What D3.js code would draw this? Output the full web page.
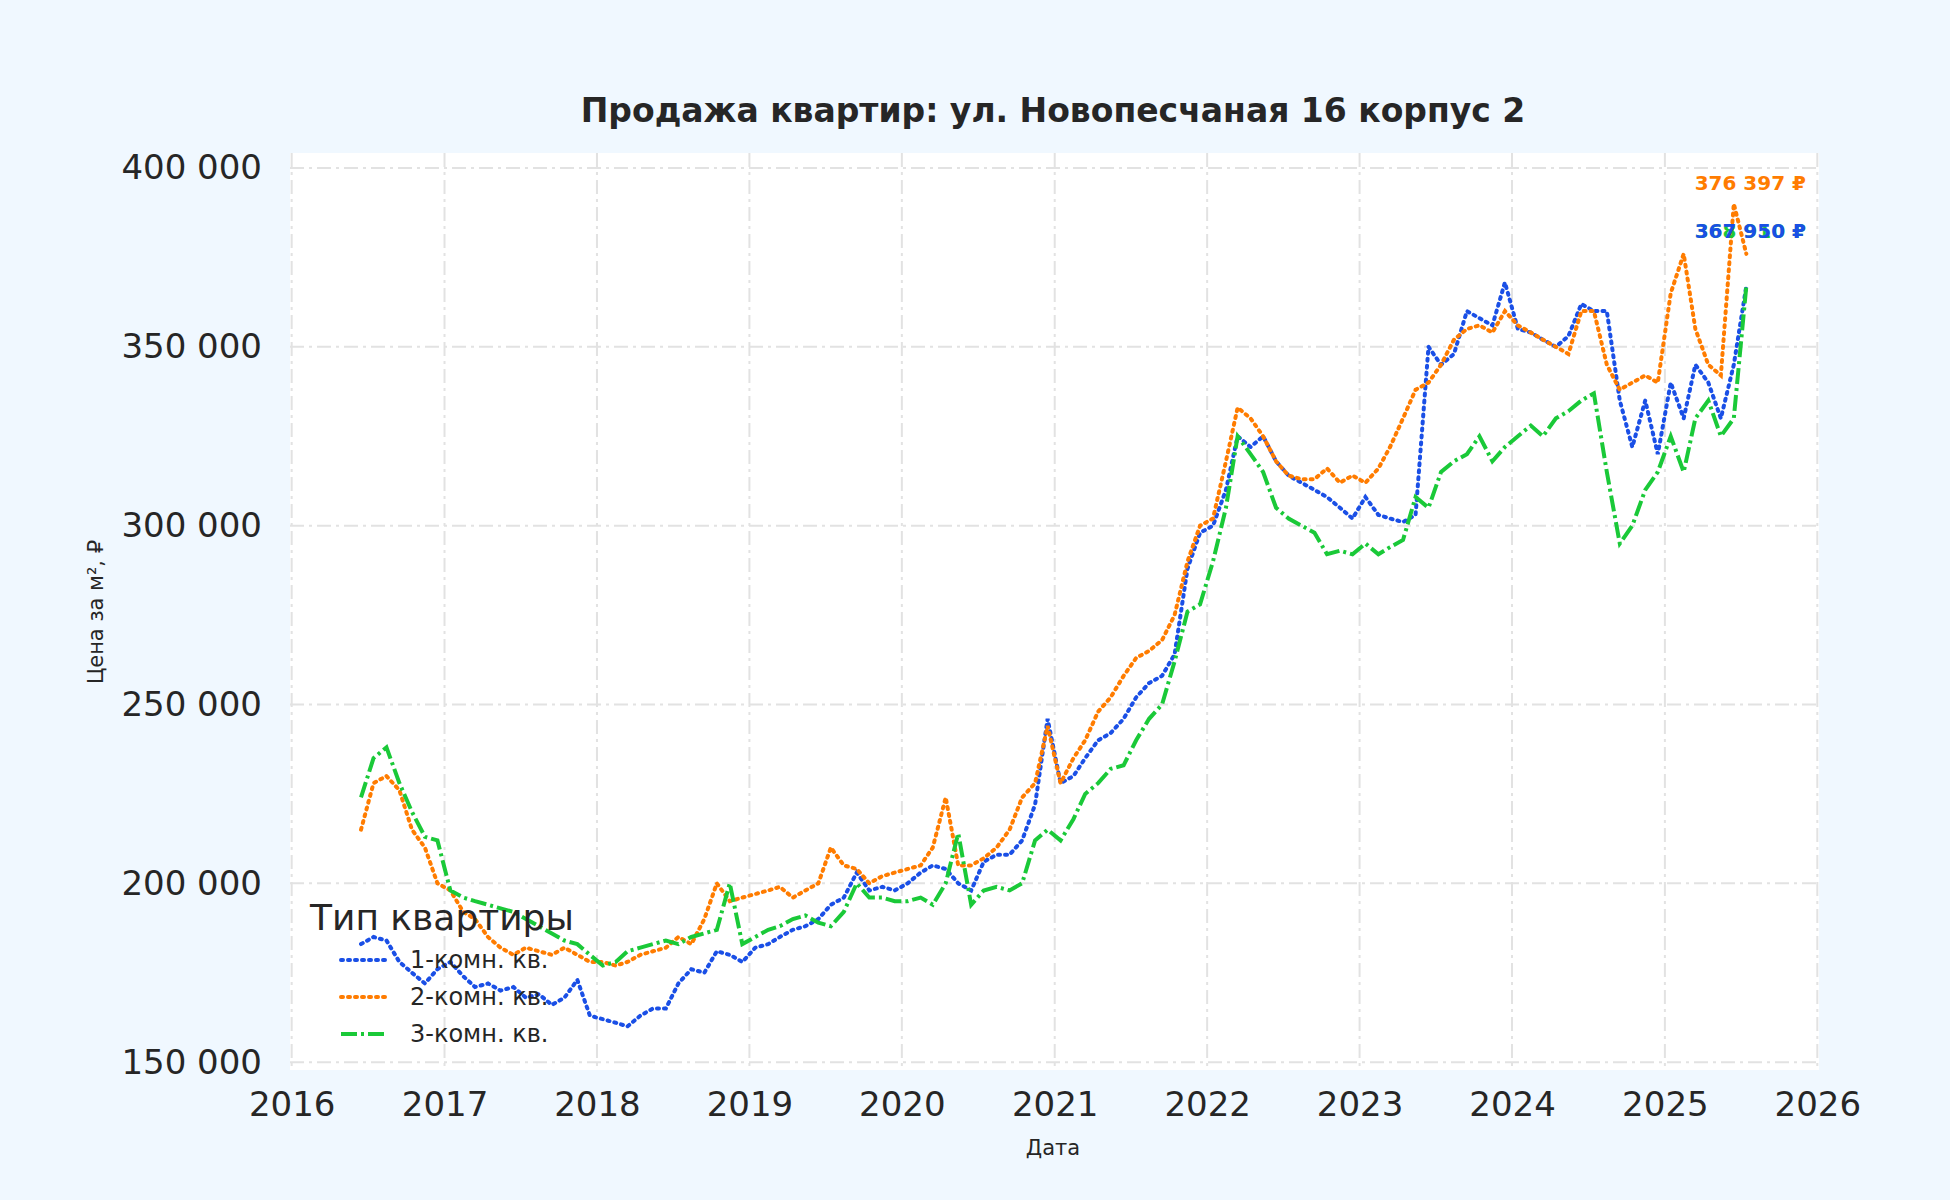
<!DOCTYPE html>
<html><head><meta charset="utf-8">
<script src="https://cdn.jsdelivr.net/npm/d3@7"></script>
<style>body{margin:0;background:#f0f8ff}text{font-family:"DejaVu Sans",sans-serif}</style>
</head><body>
<svg id="canvas" width="1950" height="1200"></svg>
<script>
// monthly values, thousands of rubles, Jun 2016 .. Jul 2025
let startMonth = new Date(2016, 5, 15)
let room1 = [183,185,184,178,175,172,176,
  178,174,171,172,170,171,168,169,166,168,173,163,
  162,161,160,163,165,165,172,176,175,181,180,178,
  182,183,185,187,188,190,194,196,203,198,199,198,
  200,203,205,204,200,198,206,208,208,212,222,246,
  228,230,235,240,242,246,252,256,258,264,288,298,
  300,310,325,322,325,318,314,312,310,308,305,302,
  308,303,302,301,303,350,345,348,360,358,356,368,
  355,354,352,350,353,362,360,360,335,322,335,320,
  340,330,345,340,330,345,367]
let room2 = [215,228,230,226,215,210,200,
  198,192,190,185,182,180,182,181,180,182,180,178,
  178,177,178,180,181,182,185,183,190,200,195,196,
  197,198,199,196,198,200,210,205,204,200,202,203,
  204,205,210,224,205,205,207,210,215,224,228,244,
  228,235,240,248,252,258,263,265,268,275,290,300,
  302,318,333,330,325,318,314,313,313,316,312,314,
  312,316,322,330,338,340,345,352,355,356,354,360,
  356,354,352,350,348,360,360,345,338,340,342,340,
  365,376,355,345,342,390,376]
let room3 = [224,235,238,228,220,213,212,
  198,196,195,194,193,192,190,188,186,184,183,180,
  177,178,181,182,183,184,183,185,186,187,200,183,
  185,187,188,190,191,189,188,192,200,196,196,195,
  195,196,194,200,214,194,198,199,198,200,212,215,
  212,218,225,228,232,233,240,246,250,262,276,278,
  290,305,325,320,315,305,302,300,298,292,293,292,
  295,292,294,296,308,305,315,318,320,325,318,322,
  325,328,325,330,332,335,337,315,295,300,310,315,
  325,315,330,335,325,330,367]
let seriesNames = ['1-комн. кв.','2-комн. кв.','3-комн. кв.']
let seriesColors = ['#1a4fe6','#ff7c00','#1ac938']
let seriesDash = ['2,5','2,5','16,4,3,4']
let lastLabels = ['367 950 ₽','376 397 ₽','368 910 ₽']
let yTicks = [150000,200000,250000,300000,350000,400000]
let xTicks = [2016,2017,2018,2019,2020,2021,2022,2023,2024,2025,2026]

let svg = d3.select('#canvas')
let L = 290, R = 1819, T = 153, B = 1070

svg.append('rect').attr('x', L).attr('y', T).attr('width', R-L).attr('height', B-T).attr('fill', 'white')

let x = d3.scaleTime().domain([new Date(2015, 11, 28), new Date(2026, 0, 5)]).range([L, R])
let y = d3.scaleLinear().domain([147800, 404200]).range([B, T])

let grid = svg.append('g')
grid.selectAll('.gx').data(xTicks).enter().append('line')
  .attr('x1', d => x(new Date(d,0,1))).attr('x2', d => x(new Date(d,0,1)))
  .attr('y1', T).attr('y2', B)
  .attr('stroke', '#e2e2e2').attr('stroke-width', 2).attr('stroke-dasharray', '14,5,3,5')
grid.selectAll('.gy').data(yTicks).enter().append('line')
  .attr('x1', L).attr('x2', R).attr('y1', d => y(d)).attr('y2', d => y(d))
  .attr('stroke', '#e2e2e2').attr('stroke-width', 2).attr('stroke-dasharray', '14,5,3,5')

let fmt = d => d3.format(',')(d).replace(/,/g, ' ')
svg.append('g').attr('transform', `translate(${L},0)`)
  .call(d3.axisLeft(y).tickValues(yTicks).tickFormat(fmt).tickSize(0).tickPadding(28))
  .call(g => g.select('.domain').remove())
  .selectAll('text').attr('font-size', 34).attr('fill', '#262626')
svg.append('g').attr('transform', `translate(0,${B})`)
  .call(d3.axisBottom(x).tickValues(xTicks.map(d => new Date(d,0,1))).tickFormat(d3.timeFormat('%Y')).tickSize(0).tickPadding(22))
  .call(g => g.select('.domain').remove())
  .selectAll('text').attr('font-size', 34).attr('fill', '#262626')

let dates = room1.map((v, i) => d3.timeMonth.offset(startMonth, i))
let line = d3.line().x((d, i) => x(dates[i])).y(d => y(d * 1000)).curve(d3.curveLinear)
let all = [room1, room2, room3]
all.forEach((s, k) => {
  svg.append('path').datum(s).attr('d', line).attr('fill', 'none')
    .attr('stroke', seriesColors[k]).attr('stroke-width', 4)
    .attr('stroke-dasharray', seriesDash[k]).attr('stroke-linecap', k < 2 ? 'round' : 'butt')
})

// end labels
let labelY = [238, 190, 238]
;[2, 0, 1].forEach(k => {
  svg.append('text').attr('x', 1806).attr('y', labelY[k]).attr('text-anchor', 'end')
    .attr('font-size', 20).attr('font-weight', 'bold').attr('fill', seriesColors[k]).text(lastLabels[k])
})

svg.append('text').attr('x', 1053).attr('y', 122).attr('text-anchor', 'middle')
  .attr('font-size', 33).attr('font-weight', 'bold').attr('fill', '#262626')
  .text('Продажа квартир: ул. Новопесчаная 16 корпус 2')
svg.append('text').attr('x', 1053).attr('y', 1155).attr('text-anchor', 'middle')
  .attr('font-size', 21).attr('fill', '#262626').text('Дата')
svg.append('text').attr('transform', 'translate(103,612) rotate(-90)').attr('text-anchor', 'middle')
  .attr('font-size', 21).attr('fill', '#262626').text('Цена за м², ₽')

// legend
let lg = svg.append('g')
lg.append('text').attr('x', 310).attr('y', 930).attr('font-size', 36).attr('fill', '#262626').text('Тип квартиры')
seriesNames.forEach((n, k) => {
  let yy = 960 + k * 37
  lg.append('line').attr('x1', 341).attr('x2', 388).attr('y1', yy).attr('y2', yy)
    .attr('stroke', seriesColors[k]).attr('stroke-width', 4).attr('stroke-dasharray', seriesDash[k])
    .attr('stroke-linecap', k < 2 ? 'round' : 'butt')
  lg.append('text').attr('x', 410).attr('y', yy + 8).attr('font-size', 24).attr('fill', '#262626').text(n)
})
</script>
</body></html>
